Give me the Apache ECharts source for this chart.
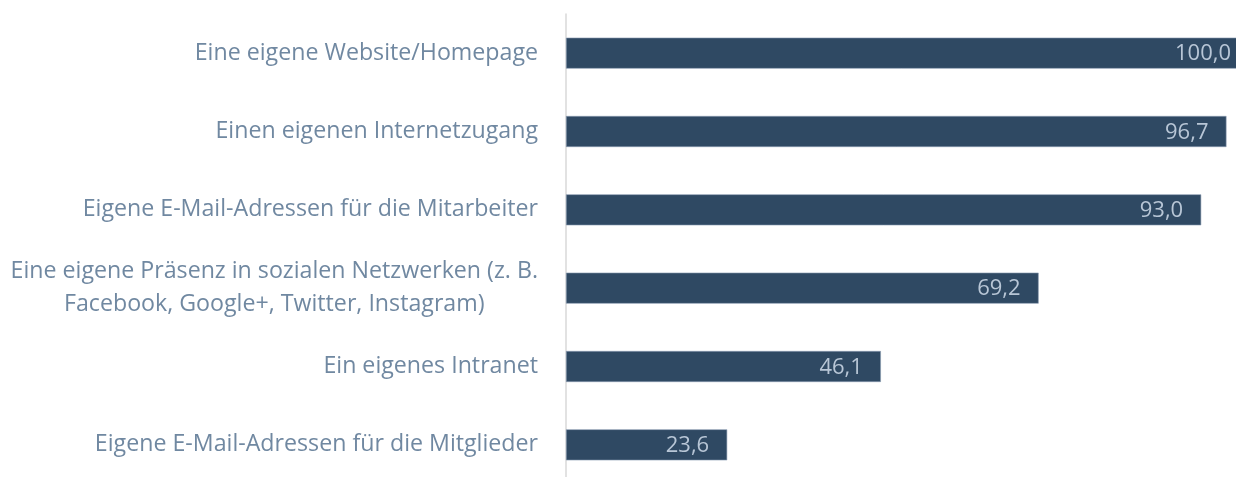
<!DOCTYPE html>
<html>
<head>
<meta charset="utf-8">
<script src="https://cdn.jsdelivr.net/npm/echarts@6/dist/echarts.min.js"></script>
<style>
  html, body { margin: 0; padding: 0; background: #fff; }
  #chart { width: 1236px; height: 477px; }
</style>
</head>
<body>
<div id="chart"></div>
<script>
// Daten (von oben nach unten)
const categories = [
    'Eine eigene Website/Homepage',
    'Einen eigenen Internetzugang',
    'Eigene E-Mail-Adressen für die Mitarbeiter',
    'Eine eigene Präsenz in sozialen Netzwerken (z. B.\nFacebook, Google+, Twitter, Instagram)',
    'Ein eigenes Intranet',
    'Eigene E-Mail-Adressen für die Mitglieder'
]
const values = [100.0, 96.7, 93.0, 69.2, 46.1, 23.6]

const chart = echarts.init(document.getElementById('chart'))

chart.setOption({
    animation: false,
    grid: { left: 566, top: 14, width: 683, height: 470, containLabel: false, outerBoundsMode: 'none' },
    xAxis: {
        type: 'value',
        min: 0,
        max: 100,
        show: false
    },
    yAxis: {
        type: 'category',
        inverse: true,
        data: categories,
        axisLine: { show: true, lineStyle: { color: '#d9d9d9', width: 1.5 } },
        axisTick: { show: false },
        axisLabel: {
            margin: 28,
            fontFamily: 'Open Sans',
            fontSize: 23.2,
            color: '#7088a1',
            lineHeight: 33,
            formatter: (v) => v.split('\n').map(s => '{c|' + s + '}').join('\n'),
            rich: { c: { align: 'center', fontFamily: 'Open Sans', fontSize: 23.2, color: '#7088a1', lineHeight: 33 } }
        }
    },
    series: [{
        type: 'bar',
        data: values,
        barWidth: 31,
        itemStyle: { color: '#2f4963', borderColor: '#8a9bb0', borderWidth: 0.6 },
        label: {
            show: true,
            position: 'insideRight',
            offset: [-13, 1],
            fontFamily: 'Open Sans',
            fontSize: 22,
            color: '#b8c6d6',
            formatter: (p) => p.value.toFixed(1).replace('.', ',')
        }
    }]
})
</script>
</body>
</html>
